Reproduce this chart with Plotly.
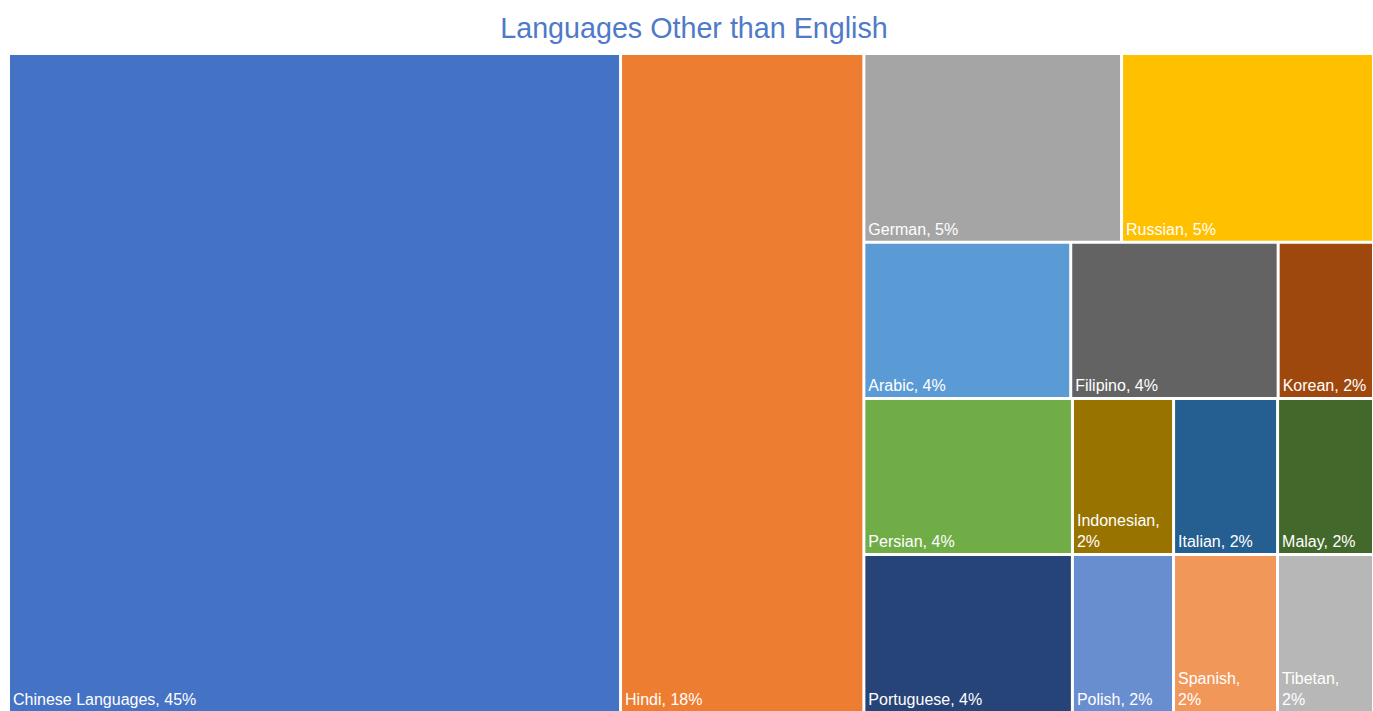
import plotly.graph_objects as go

# ---- data ----
languages = ["Chinese Languages", "Hindi", "German", "Russian", "Arabic", "Filipino", "Korean",
             "Persian", "Indonesian", "Italian", "Malay", "Portuguese", "Polish", "Spanish", "Tibetan"]
shares = [44.70, 17.77, 5.39, 5.27, 3.58, 3.59, 1.65,
          3.61, 1.75, 1.80, 1.66, 3.65, 1.77, 1.82, 1.68]
pct_labels = ["45%", "18%", "5%", "5%", "4%", "4%", "2%",
              "4%", "2%", "2%", "2%", "4%", "2%", "2%", "2%"]
groups = ["root", "root", "row1", "row1", "row2", "row2", "row2",
          "row3", "row3", "row3", "row3", "row4", "row4", "row4", "row4"]
colors = ["#4472C4", "#ED7D31", "#A5A5A5", "#FFC000", "#5B9BD5", "#636363", "#9E480E",
          "#70AD47", "#997300", "#255E91", "#43682B", "#264478", "#698ED0", "#F1975A", "#B7B7B7"]
wrapped = ["Indonesian", "Spanish", "Tibetan"]
group_nodes = ["rest", "row1", "row2", "row3", "row4"]
group_parents = ["root", "rest", "rest", "rest", "rest"]

# ---- build hierarchy (order controls placement) ----
ids, parents, values, texts, cols = ["root"], [""], [0], [""], ["white"]


def add_leaf(i):
    ids.append(languages[i])
    parents.append(groups[i])
    values.append(shares[i])
    sep = ",<br>" if languages[i] in wrapped else ", "
    texts.append(languages[i] + sep + pct_labels[i])
    cols.append(colors[i])


for i in range(2):
    add_leaf(i)
for g, p in zip(group_nodes, group_parents):
    ids.append(g)
    parents.append(p)
    values.append(0)
    texts.append("")
    cols.append("white")
for i in range(2, len(languages)):
    add_leaf(i)

fig = go.Figure(go.Treemap(
    ids=ids,
    labels=ids,
    parents=parents,
    values=values,
    text=texts,
    textinfo="text",
    textposition="bottom left",
    textfont=dict(family="Liberation Sans, Arial, sans-serif", size=16, color="white"),
    sort=False,
    branchvalues="remainder",
    marker=dict(colors=cols, line=dict(width=0), pad=dict(t=0, l=0, r=0, b=0), depthfade=False),
    root=dict(color="white"),
    pathbar=dict(visible=False),
    tiling=dict(packing="slice-dice", pad=3),
    hoverinfo="none",
))

fig.update_layout(
    width=1373,
    height=711,
    margin=dict(l=10, r=1, t=55, b=0),
    paper_bgcolor="white",
    title=dict(
        text="Languages Other than English",
        x=694 / 1373, xanchor="center", xref="container",
        y=1 - 28 / 711, yanchor="middle", yref="container",
        font=dict(family="Liberation Sans, Arial, sans-serif", size=28.7, color="#4E7AC7"),
    ),
)

fig.write_html("out.html")
